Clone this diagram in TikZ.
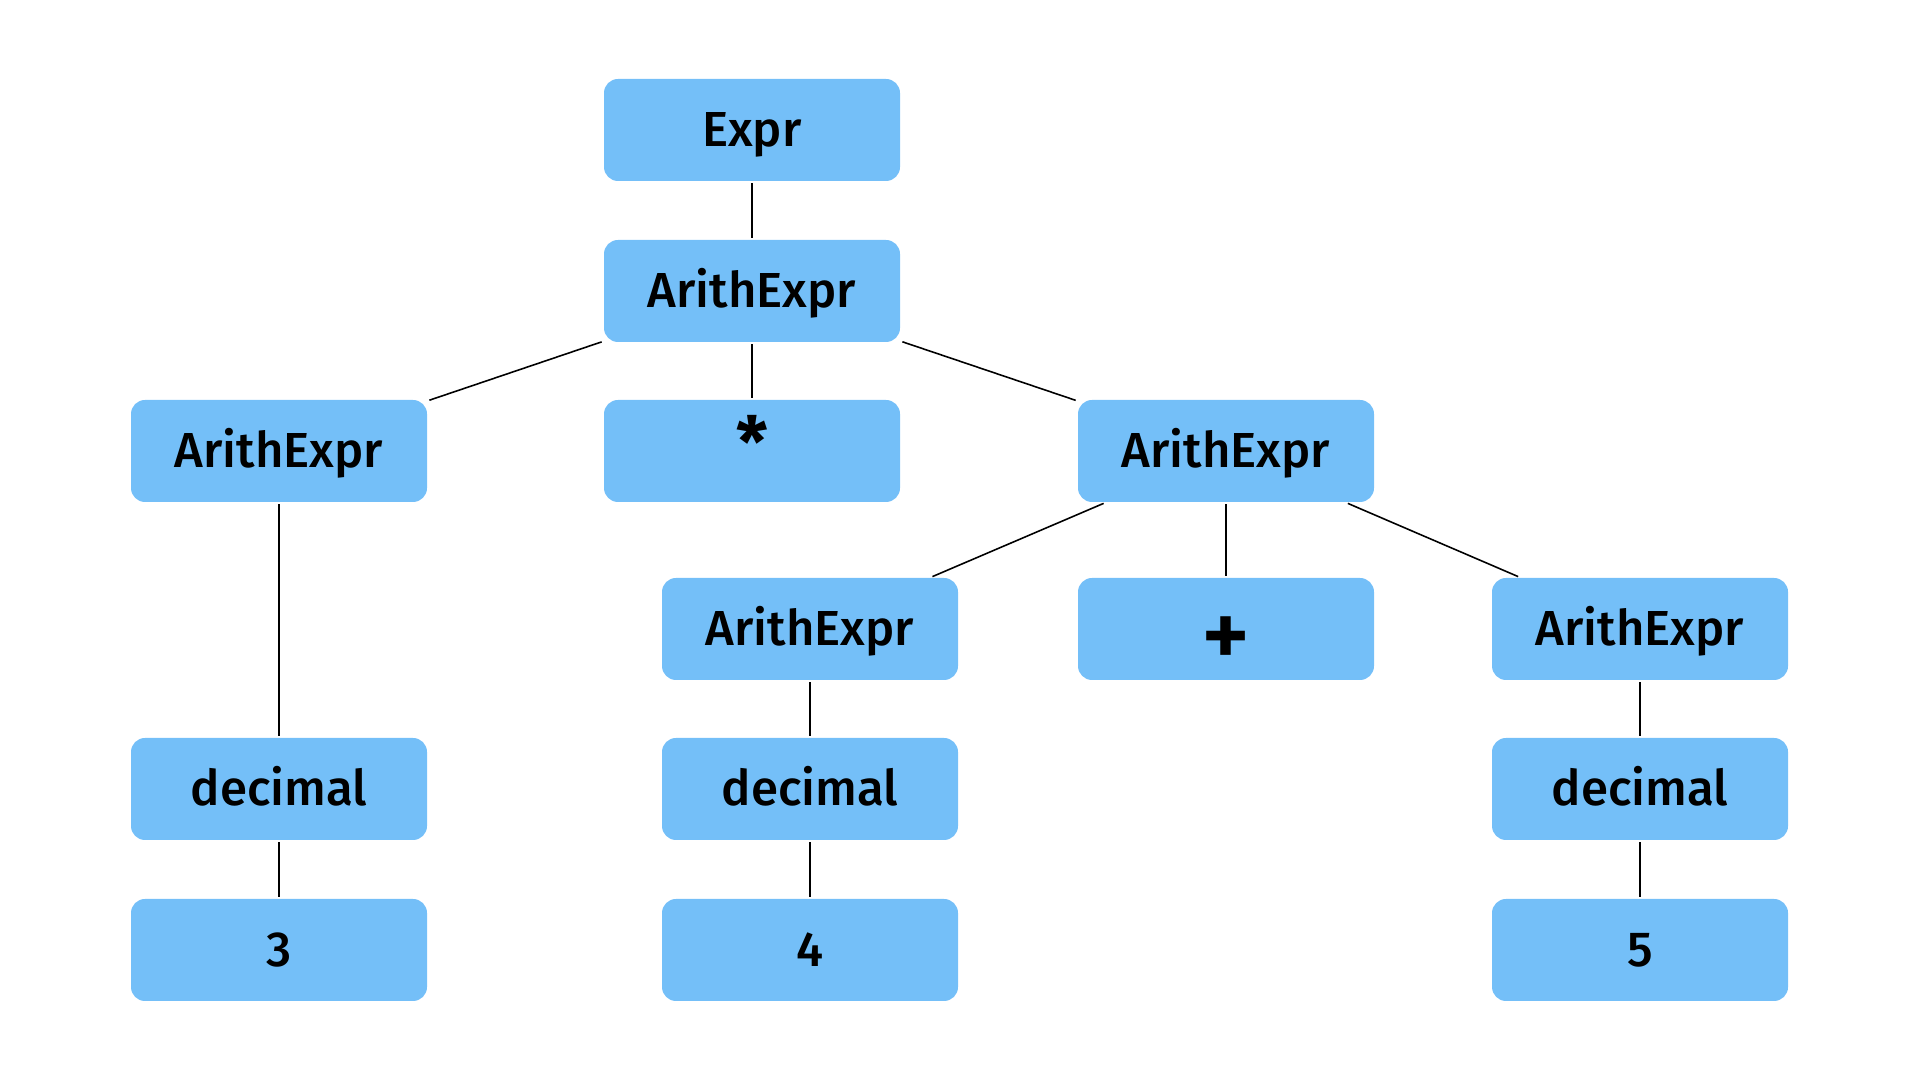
\documentclass[tikz,border=0pt]{standalone}
\usepackage{fontspec}
\setmainfont{Fira Sans}[UprightFont=* Medium, BoldFont=* Bold]
\usepackage{tikz}
\usetikzlibrary{positioning}
\definecolor{boxblue}{HTML}{74BFF8}

\begin{document}
\begin{tikzpicture}[
    tnode/.style={fill=boxblue, rounded corners=0.14cm, inner sep=0pt,
        minimum width=2.96cm, minimum height=1.02cm,
        text height=0.50cm, text depth=0.16cm,
        font=\fontsize{14}{16}\selectfont},
    opnode/.style={tnode, font=\fontsize{20}{22}\selectfont\bfseries},
    edge/.style={draw=black, line width=0.45pt, shorten <=0.5pt, shorten >=0.5pt}
]
\useasboundingbox (0,0) rectangle (19.2,10.8);

% =====================================================
% TOP OF THE TREE
% =====================================================
\node[tnode] (expr) at (7.52, 9.50) {Expr};
\node[tnode] (ae0)  at (7.52, 7.89) {ArithExpr};

% second level: left operand, operator, right operand
\node[tnode]  (ae1)  at ( 2.79, 6.29) {ArithExpr};
\node[opnode] (star) at ( 7.52, 6.29) {*};
\node[tnode]  (ae2)  at (12.26, 6.29) {ArithExpr};

% third level (below right operand)
\node[tnode]  (ae3)  at ( 8.10, 4.51) {ArithExpr};
\node[opnode, font=\fontsize{27}{29}\selectfont]
      (plus) at (12.26, 4.51) {\raisebox{-0.22cm}{+}};
\node[tnode]  (ae4)  at (16.40, 4.51) {ArithExpr};

% =====================================================
% LEAVES
% =====================================================
\node[tnode] (dec1) at ( 2.79, 2.91) {decimal};
\node[tnode] (dec2) at ( 8.10, 2.91) {decimal};
\node[tnode] (dec3) at (16.40, 2.91) {decimal};

\node[tnode] (n3) at ( 2.79, 1.30) {3};
\node[tnode] (n4) at ( 8.10, 1.30) {4};
\node[tnode] (n5) at (16.40, 1.30) {5};

% =====================================================
% EDGES
% =====================================================
\draw[edge] (expr) -- (ae0);
\draw[edge] (ae0) -- (ae1);
\draw[edge] (ae0) -- (star);
\draw[edge] (ae0) -- (ae2);
\draw[edge] (ae2) -- (ae3);
\draw[edge] (ae2) -- (plus);
\draw[edge] (ae2) -- (ae4);
\draw[edge] (ae1) -- (dec1);
\draw[edge] (ae3) -- (dec2);
\draw[edge] (ae4) -- (dec3);
\draw[edge] (dec1) -- (n3);
\draw[edge] (dec2) -- (n4);
\draw[edge] (dec3) -- (n5);

\end{tikzpicture}
\end{document}
